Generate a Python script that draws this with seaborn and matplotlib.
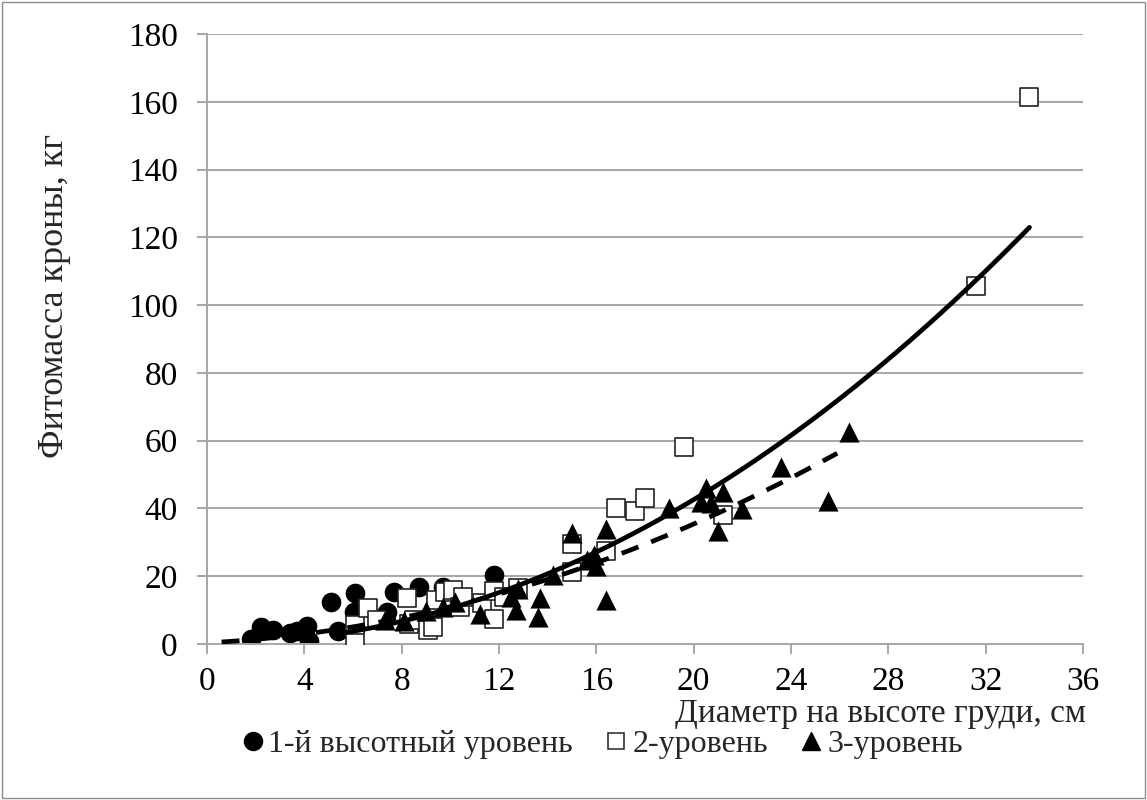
import numpy as np
import pandas as pd
import seaborn as sns
import matplotlib.pyplot as plt
from matplotlib.lines import Line2D
from matplotlib.patches import Rectangle

# 1-й высотный уровень (circles)
lvl1_d = [1.8, 2.2, 2.7, 3.4, 3.7, 4.1, 4.2, 5.1, 5.4, 6.05, 6.1, 7.4, 7.7, 8.7, 9.7, 11.8]
lvl1_m = [1.5, 5.0, 4.2, 3.2, 3.8, 5.2, 0.8, 12.4, 3.7, 9.5, 15.0, 9.5, 15.4, 16.9, 16.9, 20.4]

# 2-уровень (open squares)
lvl2_d = [6.1, 6.1, 6.6, 7.0, 8.2, 8.3, 8.5, 9.1, 9.3, 9.4, 9.8, 10.1, 10.4, 10.5,
          11.3, 11.8, 11.8, 12.2, 12.8, 15.0, 15.0, 16.4, 16.8, 17.6, 18.0, 19.6,
          21.2, 31.6, 33.8]
lvl2_m = [2.0, 5.5, 10.5, 7.0, 13.5, 5.8, 7.0, 4.0, 5.0, 13.0, 15.4, 16.0, 11.0, 14.0,
          12.0, 15.5, 7.5, 14.0, 16.5, 29.5, 21.2, 27.5, 40.2, 39.2, 43.0, 58.0,
          38.0, 105.6, 161.5]

# 3-уровень (triangles)
lvl3_d = [7.3, 8.1, 9.0, 9.7, 10.2, 11.2, 12.5, 12.7, 12.8, 13.6, 13.7, 14.2, 15.0,
          15.6, 15.9, 16.0, 16.4, 16.4, 19.0, 20.3, 20.5, 20.7, 21.0, 21.2, 22.0,
          23.6, 25.5, 26.4]
lvl3_m = [7.0, 6.8, 9.7, 11.0, 12.4, 8.8, 13.9, 10.0, 16.2, 8.0, 13.6, 20.4, 32.7,
          24.8, 26.3, 23.0, 13.0, 34.0, 40.0, 42.0, 46.0, 41.6, 33.3, 44.8, 39.8,
          52.2, 42.2, 62.6]

level_names = ["1-й высотный уровень", "2-уровень", "3-уровень"]
x_ticks = list(range(0, 37, 4))
y_ticks = list(range(0, 181, 20))

# trend lines
power_trend = [0.1003, 2.02]          # y = a * x^b  (2-уровень)
power_range = [5.7, 33.8]
quad_trend = [0.069, 0.373, 0.34]     # y = a x^2 + b x + c  (3-уровень)
quad_range = [0.6, 25.9]

sns.set_theme(style="white")
plt.rcParams["font.family"] = ["Liberation Serif", "DejaVu Serif"]

grid_col = "#a6a6a6"
fig = plt.figure(figsize=(11.47, 8), dpi=100)
ax = fig.add_axes([207 / 1147, 1 - 644 / 800, 876 / 1147, 610 / 800])

for y in y_ticks[1:]:
    ax.axhline(y, color=grid_col, lw=1.4, zorder=0)

sns.scatterplot(x=lvl1_d, y=lvl1_m, ax=ax, marker="o", s=200, color="black",
                edgecolor="black", linewidth=0, zorder=2)
sns.scatterplot(x=lvl2_d, y=lvl2_m, ax=ax, marker="s", s=175, color="white",
                edgecolor="#222222", linewidth=1.2, zorder=3)
sns.scatterplot(x=lvl3_d, y=lvl3_m, ax=ax, marker="^", s=210, color="black",
                edgecolor="black", linewidth=0, zorder=4)

xs2 = np.linspace(power_range[0], power_range[1], 200)
ax.plot(xs2, power_trend[0] * xs2 ** power_trend[1], color="black", lw=3.4,
        solid_capstyle="round", zorder=5)

xs3 = np.linspace(quad_range[0], quad_range[1], 200)
ax.plot(xs3, np.polyval(quad_trend, xs3), color="black", lw=3.4, ls=(0, (3.8, 2.9)),
        dash_capstyle="butt", zorder=5)

ax.set_xlim(0, 36)
ax.set_ylim(0, 180)
ax.set_xticks(x_ticks)
ax.set_yticks(y_ticks)
for side in ["top", "right"]:
    ax.spines[side].set_visible(False)
for side in ["left", "bottom"]:
    ax.spines[side].set_color(grid_col)
    ax.spines[side].set_linewidth(1.4)
ax.tick_params(axis="both", direction="out", length=7, width=1.4, color=grid_col,
               labelsize=24, labelcolor="black", bottom=True, left=True)
ax.tick_params(axis="y", pad=14)
ax.tick_params(axis="x", pad=9)

ax.set_xlabel("Диаметр на высоте груди, см", fontsize=24, ha="right", va="center")
ax.xaxis.set_label_coords(1.003, -70 / 610)
ax.set_ylabel("Фитомасса кроны, кг", fontsize=26, va="center")
ax.yaxis.set_label_coords((55 - 207) / 876, 0.57)

handles = [
    Line2D([], [], ls="none", marker="o", ms=13, mfc="black", mec="black"),
    Line2D([], [], ls="none", marker="s", ms=12, mfc="white", mec="#222222", mew=1.1),
    Line2D([], [], ls="none", marker="^", ms=13, mfc="black", mec="black"),
]
fig.legend(handles, level_names, loc="center", bbox_to_anchor=(602 / 1147, 1 - 744 / 800),
           ncol=3, frameon=False, fontsize=23, handlelength=0.7, handletextpad=0.15,
           columnspacing=1.0, borderaxespad=0)

fig.patches.append(Rectangle((0.002, 0.003), 0.996, 0.994, transform=fig.transFigure,
                             fill=False, edgecolor="#8c8c8c", lw=1.0))

fig.savefig("out.png", dpi=100)
